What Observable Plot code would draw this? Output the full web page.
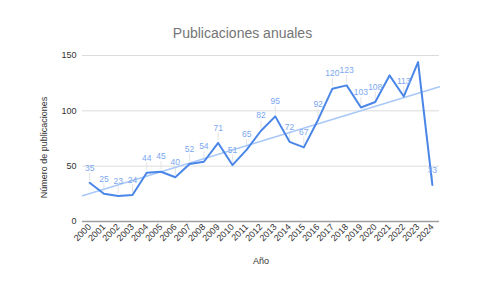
<!DOCTYPE html>
<html>
<head>
<meta charset="utf-8">
<script src="https://cdn.jsdelivr.net/npm/d3@7"></script>
<script src="https://cdn.jsdelivr.net/npm/@observablehq/plot@0.6"></script>
<style>
  html, body { margin: 0; padding: 0; background: #fff; }
  #wrap { position: relative; width: 489px; height: 291px; font-family: "Liberation Sans", Arial, sans-serif; }
  #title { position: absolute; top: 25px; left: 0; width: 485px; text-align: center; font-size: 14px; color: #757575; }
</style>
</head>
<body>
<div id="wrap"><div id="title">Publicaciones anuales</div></div>
<script>
const years = [2000,2001,2002,2003,2004,2005,2006,2007,2008,2009,2010,2011,2012,2013,2014,2015,2016,2017,2018,2019,2020,2021,2022,2023,2024];
const counts = [35,25,23,24,44,45,40,52,54,71,51,65,82,95,72,67,92,120,123,103,108,132,113,144,33];
const hiddenLabels = [2021, 2023];
const yTicks = [0, 50, 100, 150];

const data = years.map((y, i) => ({year: y, value: counts[i]}));
const labeled = data.filter(d => !hiddenLabels.includes(d.year));

// linear regression (trendline) computed from the data
const mx = d3.mean(years), my = d3.mean(counts);
const slope = d3.sum(years, (x, i) => (x - mx) * (counts[i] - my)) / d3.sum(years, x => (x - mx) ** 2);
const xDomain = [d3.min(years) - 0.5, d3.max(years) + 0.5];
const trend = xDomain.map(x => ({year: x, value: my + slope * (x - mx)}));

const chart = Plot.plot({
  width: 489,
  height: 291,
  marginLeft: 82,
  marginRight: 50,
  marginTop: 55,
  marginBottom: 70,
  style: {fontFamily: "Liberation Sans, Arial, sans-serif", fontSize: "9px", background: "transparent"},
  x: {domain: xDomain, label: null},
  y: {domain: [0, 150], label: null},
  marks: [
    Plot.gridY(yTicks.filter(t => t > 0), {stroke: "#dcdcdc", strokeOpacity: 1, strokeWidth: 1}),
    Plot.ruleY([0], {stroke: "#9e9e9e", strokeWidth: 1.5}),
    Plot.axisX({ticks: years, tickFormat: d => String(d), tickSize: 0, tickRotate: -45, tickPadding: 4, fill: "#333", fontSize: 9, label: null}),
    Plot.axisY({ticks: yTicks, tickSize: 0, tickPadding: 6, fill: "#333", fontSize: 9, label: null}),
    Plot.ruleX(labeled, {x: "year", y1: "value", y2: "value", insetTop: -10, insetBottom: 2, stroke: "#e3e3e3", strokeWidth: 1}),
    Plot.line(trend, {x: "year", y: "value", stroke: "#a9c8f8", strokeWidth: 1.5}),
    Plot.line(data, {x: "year", y: "value", stroke: "#4a86e8", strokeWidth: 2}),
    Plot.text(labeled, {x: "year", y: "value", text: d => String(d.value), dy: -15, fill: "#7ba7ef", fontSize: 8.5}),
    Plot.text(["Año"], {frameAnchor: "bottom", dy: 42, fill: "#333", fontSize: 9}),
    Plot.text(["Número de publicaciones"], {frameAnchor: "left", textAnchor: "middle", dx: -38, dy: 9, rotate: -90, fill: "#333", fontSize: 9})
  ]
});
document.getElementById("wrap").appendChild(chart);
</script>
</body>
</html>
